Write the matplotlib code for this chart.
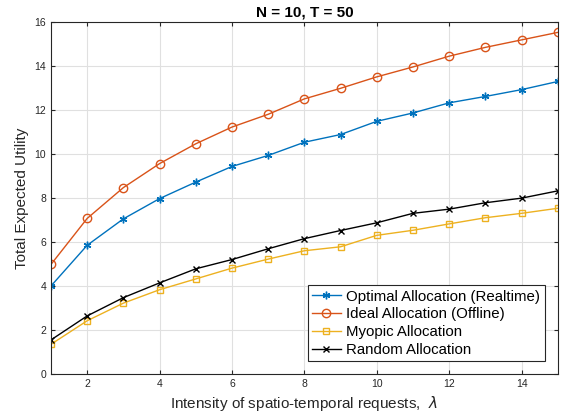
import matplotlib
matplotlib.use("Agg")
import matplotlib.pyplot as plt

lam = [1, 2, 3, 4, 5, 6, 7, 8, 9, 10, 11, 12, 13, 14, 15]
optimal = [4.0, 5.85, 7.05, 7.97, 8.72, 9.43, 9.93, 10.53, 10.88, 11.48, 11.86, 12.32, 12.61, 12.92, 13.29]
ideal = [4.98, 7.07, 8.47, 9.56, 10.46, 11.22, 11.80, 12.50, 12.98, 13.50, 13.95, 14.44, 14.84, 15.18, 15.52]
myopic = [1.35, 2.42, 3.22, 3.83, 4.32, 4.81, 5.22, 5.60, 5.78, 6.30, 6.53, 6.82, 7.10, 7.30, 7.53]
random_alloc = [1.55, 2.64, 3.47, 4.14, 4.78, 5.20, 5.69, 6.15, 6.52, 6.87, 7.30, 7.49, 7.78, 7.99, 8.32]

plt.rcParams['font.family'] = ['Liberation Sans', 'DejaVu Sans']

fig = plt.figure(figsize=(5.75, 4.2), dpi=100)
ax = fig.add_axes([0.0887, 0.1095, 0.8813, 0.8385])

ax.plot(lam, optimal, color='#0072BD', marker=(6, 2, 0), markersize=5.5, lw=1,
        label="Optimal Allocation (Realtime)")
ax.plot(lam, ideal, color='#D95319', marker='o', markersize=6, mfc='none', lw=1,
        label="Ideal Allocation (Offline)")
ax.plot(lam, myopic, color='#EDB120', marker='s', markersize=4.5, mfc='none', lw=1,
        label="Myopic Allocation")
ax.plot(lam, random_alloc, color='black', marker='x', markersize=4, lw=1,
        label="Random Allocation")

ax.set_xlim(1, 15)
ax.set_ylim(0, 16)
ax.set_xticks([2, 4, 6, 8, 10, 12, 14])
ax.set_yticks([0, 2, 4, 6, 8, 10, 12, 14, 16])
ax.tick_params(direction='in', labelsize=7.5, colors='#262626', top=True, right=True, length=3)
ax.grid(True, color='#e0e0e0', lw=0.8)
ax.set_axisbelow(True)
for s in ax.spines.values():
    s.set_color('#262626')
    s.set_linewidth(0.8)

ax.set_xlabel(r"Intensity of spatio-temporal requests,  $\lambda$", fontsize=11, color='#262626')
ax.set_ylabel("Total Expected Utility", fontsize=11, color='#262626')
ax.set_title("N = 10, T = 50", fontsize=11, fontweight='bold', pad=4)

leg = ax.legend(loc='lower right', fontsize=10.8, fancybox=False, framealpha=1,
                edgecolor='#262626', borderpad=0.3, labelspacing=0.25, handlelength=1.9,
                handletextpad=0.4, borderaxespad=0.85)
leg.get_frame().set_linewidth(0.8)

fig.savefig("out.png", dpi=100)
